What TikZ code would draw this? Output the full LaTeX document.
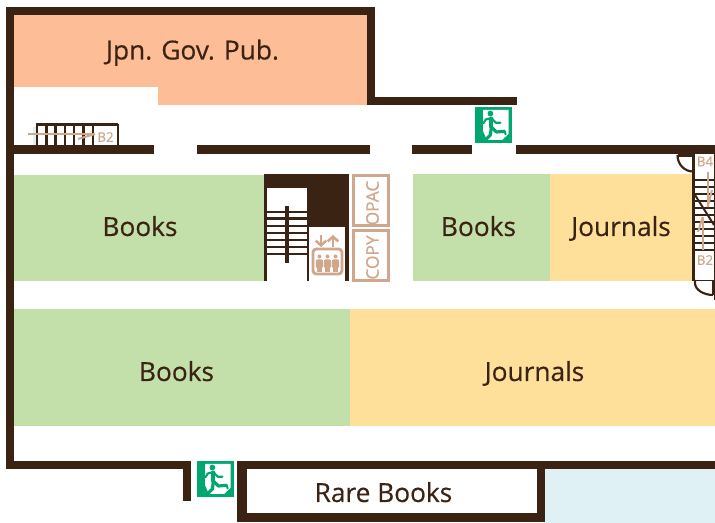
\documentclass[tikz,border=0pt]{standalone}
\usepackage{fontspec}
\usetikzlibrary{arrows.meta}
\setmainfont{Open Sans}
\newfontfamily\medfont[FakeBold=0.35]{Open Sans}
\definecolor{wall}{HTML}{3B2314}
\definecolor{orng}{HTML}{FDBD96}
\definecolor{grn}{HTML}{C3E0AA}
\definecolor{yel}{HTML}{FFE09B}
\definecolor{tan}{HTML}{D0A68C}
\definecolor{sky}{HTML}{E0F1F6}
\definecolor{exitg}{HTML}{00A870}
\tikzset{
  x=0.75pt,y=-0.75pt,
  lab/.style={font=\medfont\fontsize{19.7}{22}\selectfont,text=wall,inner sep=0pt,anchor=base},
  small/.style={font=\medfont\fontsize{10}{11}\selectfont,text=tan,inner sep=0pt},
  opac/.style={font=\medfont\fontsize{13}{14}\selectfont,text=tan,inner sep=0pt,rotate=90},
  tread/.style={wall,line width=1.6pt},
  tanline/.style={tan,line width=1.5pt},
  door/.style={wall,line width=1.6pt},
  tanbox/.style={fill=white,draw=tan,line width=2.25pt},
  person/.style={exitg,line cap=round,line join=round},
}
\newcommand{\exitsign}[2]{%
\begin{scope}[shift={(#1,#2)}]
  \fill[exitg] (0,0) rectangle (36.5,36);
  \fill[white] (8,3) -- (33.5,3) -- (33.5,27) -- (27,33) -- (12,33) -- (8,24) -- cycle;
  \fill[exitg] (15.4,6.5) circle (2.9);
  \draw[person,line width=3pt] (16.4,11.5) -- (16.4,20);
  \draw[person,line width=2.4pt] (16.4,20) -- (21.4,25) -- (29.5,24.3);
  \draw[person,line width=1.5pt] (29.5,24.3) -- (30.7,27.5);
  \draw[person,line width=2.4pt] (16.4,20) -- (15.4,28) -- (11.4,32);
  \draw[person,line width=1.6pt] (16.4,11) -- (10.7,12.5) -- (8.7,16);
  \draw[person,line width=1.6pt] (16.4,11) -- (20.7,15.7) -- (25.4,15.7);
\end{scope}}
\begin{document}
\begin{tikzpicture}
\useasboundingbox (0,0) rectangle (715,523);
\fill[white] (0,0) rectangle (715,523);
% areas
\fill[orng] (14,15) -- (367,15) -- (367,105) -- (158,105) -- (158,87) -- (14,87) -- cycle;
\fill[grn] (14,175) rectangle (264,281);
\fill[grn] (413,174) rectangle (550,281);
\fill[yel] (550,174) rectangle (693,281);
\fill[grn] (14,309) rectangle (350,426);
\fill[yel] (350,309) rectangle (715,426);
\fill[sky] (545,469) rectangle (715,523);
% upper-left stairs
\fill[sky] (33,127) rectangle (38,145);
\foreach \i in {0,...,6} \draw[wall,line width=1.9pt] (37+\i*9.3,124) -- (37+\i*9.3,146);
\draw[wall,line width=1.9pt] (36,124.5) -- (118,124.5);
\draw[wall,line width=1.6pt] (118,124) -- (118,146);
\draw[tanline] (28,134) -- (95,134);
\draw[tanline] (78,139) -- (95,134);
\node[small] (b2a) at (105.5,137) {B2};
% walls
\fill[wall] (6,7) rectangle (375,15);
\fill[wall] (6,7) rectangle (14,469);
\fill[wall] (367,7) rectangle (375,105);
\fill[wall] (367,97) rectangle (517,105);
\fill[wall] (6,145) rectangle (154,154);
\fill[wall] (197,145) rectangle (370,154);
\fill[wall] (412,145) rectangle (472,154);
\fill[wall] (516,145) rectangle (715,154);
\fill[wall] (6,461) rectangle (191,469);
\fill[wall] (183,461) rectangle (191,501);
\fill[wall] (237,461) rectangle (715,469);
\fill[wall] (237,461) rectangle (247,522);
\fill[wall] (237,513) rectangle (545,522);
\fill[wall] (537,461) rectangle (545,522);
\fill[wall] (714,145) rectangle (715,300);
% central core
\fill[wall] (264,174) rectangle (348.5,281);
\fill[white] (267.3,188.3) rectangle (306.7,281);
\fill[white] (309,226.7) rectangle (345,281);
\foreach \y in {211.7,218.5,225.7,232.7,240,246.7,254} \draw[tread] (267,\y) -- (307,\y);
\fill[wall] (285,206) rectangle (289,263);
% elevator icon
\draw[tan,line width=2.1pt,rounded corners=2.5pt] (313,249) rectangle (342,274);
\foreach \x in {319.5,327.5,335.5}{
  \fill[tan] (\x,256.5) circle (2);
  \fill[tan,rounded corners=1pt] (\x-3.6,259.5) rectangle (\x+3.6,268);
  \fill[tan] (\x-2.2,266) rectangle (\x+2.2,272.5);
}
\draw[tan,line width=1.9pt,-{Straight Barb[length=3.5pt,width=8pt]}] (321,235) -- (321,247);
\draw[tan,line width=1.9pt,-{Straight Barb[length=3.5pt,width=8pt]}] (333,247) -- (333,235);
% OPAC / COPY
\path[tanbox] (353.8,175.5) rectangle (388.5,225.8);
\path[tanbox] (353.8,230.8) rectangle (388.5,280.8);
\node[opac] (opac) at (372.5,203) {OPAC};
\node[opac] (copy) at (372.5,257.5) {COPY};
% right stairs
\draw[wall,line width=2.6pt] (693.7,154) -- (693.7,281);
\foreach \y in {180,187,194,201,208,215,222,229,236,243,250} \draw[wall,line width=1.5pt] (694,\y) -- (714,\y);
\draw[wall,line width=1.5pt] (695,195) -- (714,225);
\draw[tanline] (707.7,172) -- (707.7,207);
\draw[tanline] (707.7,207) -- (712,190);
\draw[tanline] (702.7,250) -- (702.7,217);
\draw[tanline] (702.7,217) -- (698,232);
\node[small] (b4) at (705,161.5) {B4};
\node[small] (b2b) at (705,260) {B2};
% doors
\draw[door] (677.5,155) .. controls (677.5,165) and (685,171.5) .. (693,171.5);
\draw[wall,line width=2pt] (677.5,155.5) -- (693,155.5);
\draw[door] (695,280) -- (695,283) .. controls (695,290) and (704,295) .. (713,295);
\draw[door] (713,280) -- (713,295);
\draw[wall,line width=1pt] (694,280.5) -- (713,280.5);
% exits
\exitsign{475}{107}
\exitsign{197}{461}
% labels
\node[lab] (jgp) at (192.5,59.5) {Jpn. Gov. Pub.};
\node[lab] (bk1) at (140,236) {Books};
\node[lab] (bk2) at (478.5,236) {Books};
\node[lab] (jr1) at (621,236) {Journals};
\node[lab] (bk3) at (176.5,381) {Books};
\node[lab] (jr2) at (534.5,381) {Journals};
\node[lab] (rb) at (383.5,502) {Rare Books};
\end{tikzpicture}
\end{document}
